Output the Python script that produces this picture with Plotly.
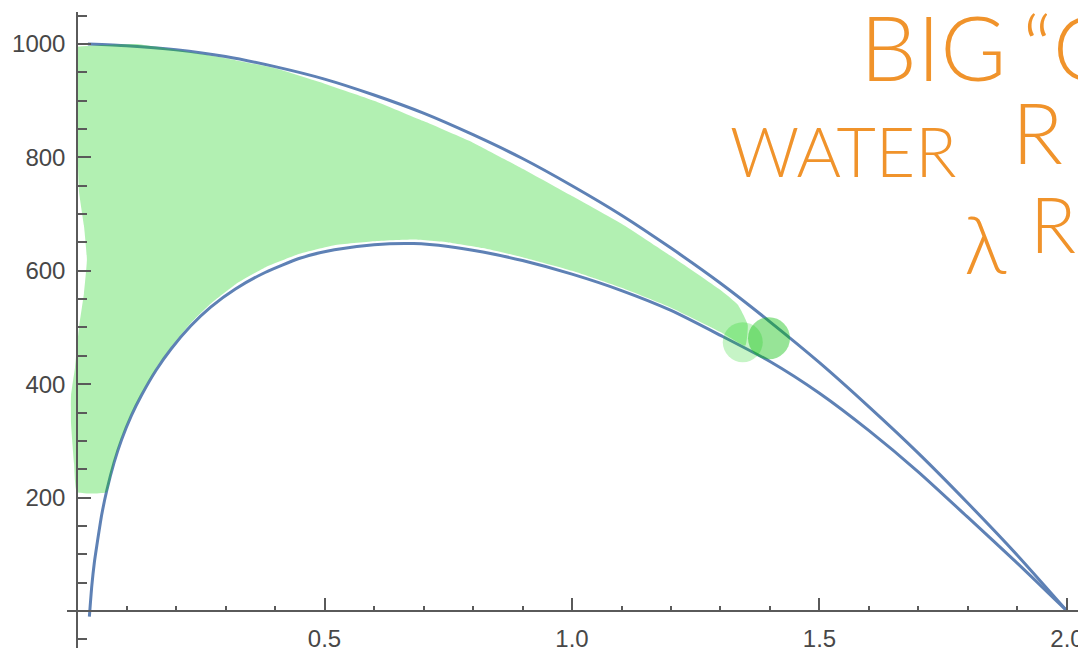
import plotly.graph_objects as go

# ---- data ----
upper_x = [0.022, 0.1, 0.2, 0.3, 0.4, 0.5, 0.6, 0.7, 0.8, 0.9, 1.0, 1.1, 1.2, 1.3, 1.4, 1.5, 1.6, 1.7, 1.8, 1.9, 2.0]
upper_y = [1000, 997, 990, 978, 960, 938, 910, 878, 840, 798, 750, 698, 640, 578, 510, 438, 360, 278, 190, 98, 0]

lower_x = [0.025, 0.03, 0.035, 0.04, 0.05, 0.06, 0.075, 0.09, 0.11, 0.13, 0.16, 0.19, 0.23, 0.27,
           0.32, 0.38, 0.45, 0.52, 0.6, 0.68, 0.75, 0.82, 0.9, 1.0, 1.1, 1.2, 1.3, 1.4, 1.5, 1.6,
           1.7, 1.8, 1.9, 2.0]
lower_y = [-10, 45, 85, 115, 170, 212, 262, 302, 345, 380, 425, 462, 503, 536,
           568, 597, 622, 637, 646, 648, 643, 633, 618, 594, 565, 530, 486, 440, 384, 318,
           245, 165, 84, 0]

# hand-drawn green highlight (top edge left->right, bottom edge right->left, left edge bottom->top)
green_top_x = [0.0, 0.05, 0.12, 0.2, 0.3, 0.4, 0.5, 0.6, 0.7, 0.8, 0.9, 1.0, 1.1, 1.2, 1.3, 1.335, 1.355]
green_top_y = [995, 998, 1000, 990, 975, 957, 930, 900, 864, 826, 780, 732, 683, 626, 566, 540, 505]
green_bot_x = [1.35, 1.3, 1.2, 1.1, 1.0, 0.9, 0.82, 0.75, 0.68, 0.6, 0.52, 0.45, 0.38, 0.32,
               0.27, 0.23, 0.19, 0.16, 0.13, 0.11, 0.09, 0.075, 0.06, 0.0]
green_bot_y = [468, 492, 535, 570, 600, 624, 640, 650, 655, 652, 645, 630, 606, 576,
               542, 508, 466, 429, 384, 349, 306, 265, 210, 210]
green_left_x = [-0.006, -0.012, -0.012, -0.004, 0.004, 0.014, 0.02, 0.014, 0.004, 0.0]
green_left_y = [260, 330, 380, 430, 500, 560, 620, 680, 740, 850]

blob_x = [1.345, 1.398]
blob_y = [474, 481]
blob_size = [40, 42]

x_tickvals = [0.5, 1.0, 1.5, 2.0]
x_ticktext = ["0.5", "1.0", "1.5", "2.0"]
y_tickvals = [200, 400, 600, 800, 1000]
y_ticktext = ["200", "400", "600", "800", "1000"]

# ---- layout geometry (page body has an 8px margin) ----
BODY = 8
W, H = 1086 - BODY, 652 - BODY
PL, PR, PT, PB = 67, 1086, 12, 648          # plot area in page pixels
ML, MR, MT, MB = PL - BODY, 0, PT - BODY, (BODY + H) - PB
x_range = [-0.0202, 2.0384]
y_range = [-65.3, 1056.4]

def px_to_paper_x(px):
    return (px - PL) / (PR - PL)

def py_to_paper_y(py):
    return 1 - (py - PT) / (PB - PT)

x_axis_pos = (0 - y_range[0]) / (y_range[1] - y_range[0])
y_axis_pos = (0 - x_range[0]) / (x_range[1] - x_range[0])

blue = "#5e81b5"
axis_col = "#5a5a5a"
green = "rgba(0,205,0,0.30)"
orange = "#f0932b"

fig = go.Figure()
fig.add_trace(go.Scatter(x=upper_x, y=upper_y, mode="lines",
                         line=dict(color=blue, width=3, shape="spline", smoothing=0.6),
                         hoverinfo="skip", showlegend=False))
fig.add_trace(go.Scatter(x=lower_x, y=lower_y, mode="lines",
                         line=dict(color=blue, width=3, shape="spline", smoothing=0.6),
                         hoverinfo="skip", showlegend=False))

poly_x = green_top_x + green_bot_x + green_left_x
poly_y = green_top_y + green_bot_y + green_left_y
fig.add_trace(go.Scatter(x=poly_x, y=poly_y, mode="lines", fill="toself", fillcolor=green,
                         line=dict(width=0, shape="spline", smoothing=0.4),
                         hoverinfo="skip", showlegend=False))
fig.add_trace(go.Scatter(x=blob_x, y=blob_y, mode="markers",
                         marker=dict(size=blob_size, color=["rgba(0,205,0,0.32)", "rgba(0,190,0,0.58)"],
                                     line=dict(width=0)),
                         hoverinfo="skip", showlegend=False))

tick_font = dict(family="Liberation Sans, Arial, sans-serif", size=24, color="#474747")

fig.update_layout(
    width=W, height=H,
    margin=dict(l=ML, r=MR, t=MT, b=MB, pad=0),
    paper_bgcolor="white", plot_bgcolor="white",
    showlegend=False,
    xaxis=dict(range=x_range, showgrid=False, zeroline=False, showline=True,
               linecolor=axis_col, linewidth=1.5, anchor="free", position=x_axis_pos,
               ticks="inside", ticklen=12, tickwidth=1.5, tickcolor=axis_col,
               tickmode="array", tickvals=x_tickvals, ticktext=x_ticktext,
               tickfont=tick_font, ticklabelstandoff=6,
               minor=dict(tickmode="linear", tick0=0, dtick=0.1, ticks="inside",
                          ticklen=4, tickwidth=1.5, tickcolor=axis_col, showgrid=False)),
    yaxis=dict(range=y_range, showgrid=False, zeroline=False, showline=True,
               linecolor=axis_col, linewidth=1.5, anchor="free", position=y_axis_pos,
               ticks="inside", ticklen=13, tickwidth=1.5, tickcolor=axis_col,
               tickmode="array", tickvals=y_tickvals, ticktext=y_ticktext,
               tickfont=tick_font, ticklabelstandoff=6,
               minor=dict(tickmode="linear", tick0=0, dtick=50, ticks="inside",
                          ticklen=9, tickwidth=1.5, tickcolor=axis_col, showgrid=False)),
)

hand_font = "Lato, Open Sans, sans-serif"
notes = [
    ("BIG", 858, 46, 90),
    ("\u201cG", 1020, 46, 90),
    ("WATER", 728, 150, 68),
    ("R", 1010, 132, 84),
    ("\u03bb", 962, 243, 80),
    ("R", 1028, 224, 76),
]
for text, px, py, size in notes:
    fig.add_annotation(text=text, xref="paper", yref="paper",
                       x=px_to_paper_x(px), y=py_to_paper_y(py),
                       xanchor="left", yanchor="middle", showarrow=False,
                       font=dict(family=hand_font, size=size, color=orange, weight=300))

fig.write_html("out.html")
